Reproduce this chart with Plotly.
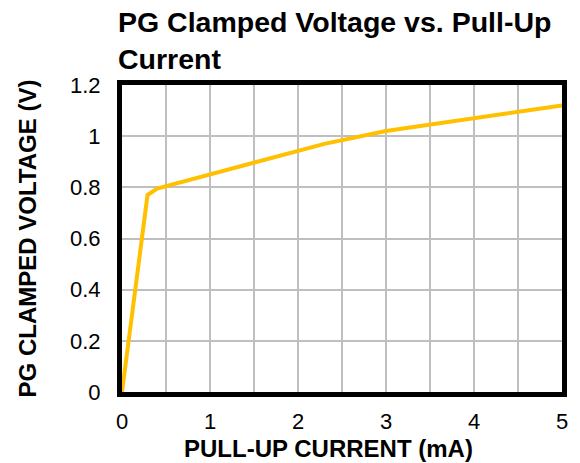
import plotly.graph_objects as go

# PG clamped voltage vs pull-up current
current_ma = [0.0, 0.29, 0.40, 1.0, 2.0, 2.3, 3.0, 4.0, 5.0]
pg_voltage = [0.0, 0.77, 0.795, 0.85, 0.945, 0.97, 1.02, 1.07, 1.12]

x_ticks = [0, 1, 2, 3, 4, 5]
y_ticks = [0, 0.2, 0.4, 0.6, 0.8, 1.0, 1.2]
y_tick_text = ["0", "0.2", "0.4", "0.6", "0.8", "1", "1.2"]

FONT = "Liberation Sans, Arial, sans-serif"
GRID = "#BFBFBF"

# plot area in pixels
L, R, T, B = 122, 14, 85, 71
W, H = 580, 463
PLOT_W, PLOT_H = W - L - R, H - T - B

fig = go.Figure()
fig.add_trace(go.Scatter(
    x=current_ma, y=pg_voltage, mode="lines",
    line=dict(color="#FFC000", width=4),
    showlegend=False, hoverinfo="skip",
))

fig.update_layout(
    width=W, height=H,
    margin=dict(l=L, r=R, t=T, b=B),
    paper_bgcolor="white", plot_bgcolor="white",
    font=dict(family=FONT, color="black"),
    xaxis=dict(
        range=[0, 5], tickvals=x_ticks, ticktext=[str(v) for v in x_ticks],
        showgrid=True, gridcolor=GRID, gridwidth=1.5,
        minor=dict(dtick=0.5, showgrid=True, gridcolor=GRID, gridwidth=1.5),
        showline=True, linecolor="black", linewidth=5, mirror=True,
        zeroline=False, ticks="", ticklabelstandoff=6,
        tickfont=dict(size=22, family=FONT, color="black"),
    ),
    yaxis=dict(
        range=[0, 1.2], tickvals=y_ticks, ticktext=y_tick_text,
        showgrid=True, gridcolor=GRID, gridwidth=1.5,
        showline=True, linecolor="black", linewidth=5, mirror=True,
        zeroline=False, ticks="", ticklabelstandoff=12,
        tickfont=dict(size=22, family=FONT, color="black"),
        title=dict(text="<b>PG CLAMPED VOLTAGE (V)</b>", standoff=28,
                   font=dict(size=24, family=FONT, color="black")),
    ),
    annotations=[
        dict(
            text="<b>PG Clamped Voltage vs. Pull-Up<br>Current</b>",
            xref="paper", yref="paper",
            x=(116 - L) / PLOT_W, y=1 + (T - 4) / PLOT_H,
            xanchor="left", yanchor="top", align="left", showarrow=False,
            font=dict(family=FONT, size=28.5, color="black"),
        ),
        dict(
            text="<b>PULL-UP CURRENT (mA)</b>",
            xref="paper", yref="paper",
            x=(330 - L) / PLOT_W, y=-(448 - (H - B)) / PLOT_H,
            xanchor="center", yanchor="middle", showarrow=False,
            borderpad=0,
            font=dict(family=FONT, size=24, color="black"),
        ),
    ],
)

fig.write_html("out.html")
